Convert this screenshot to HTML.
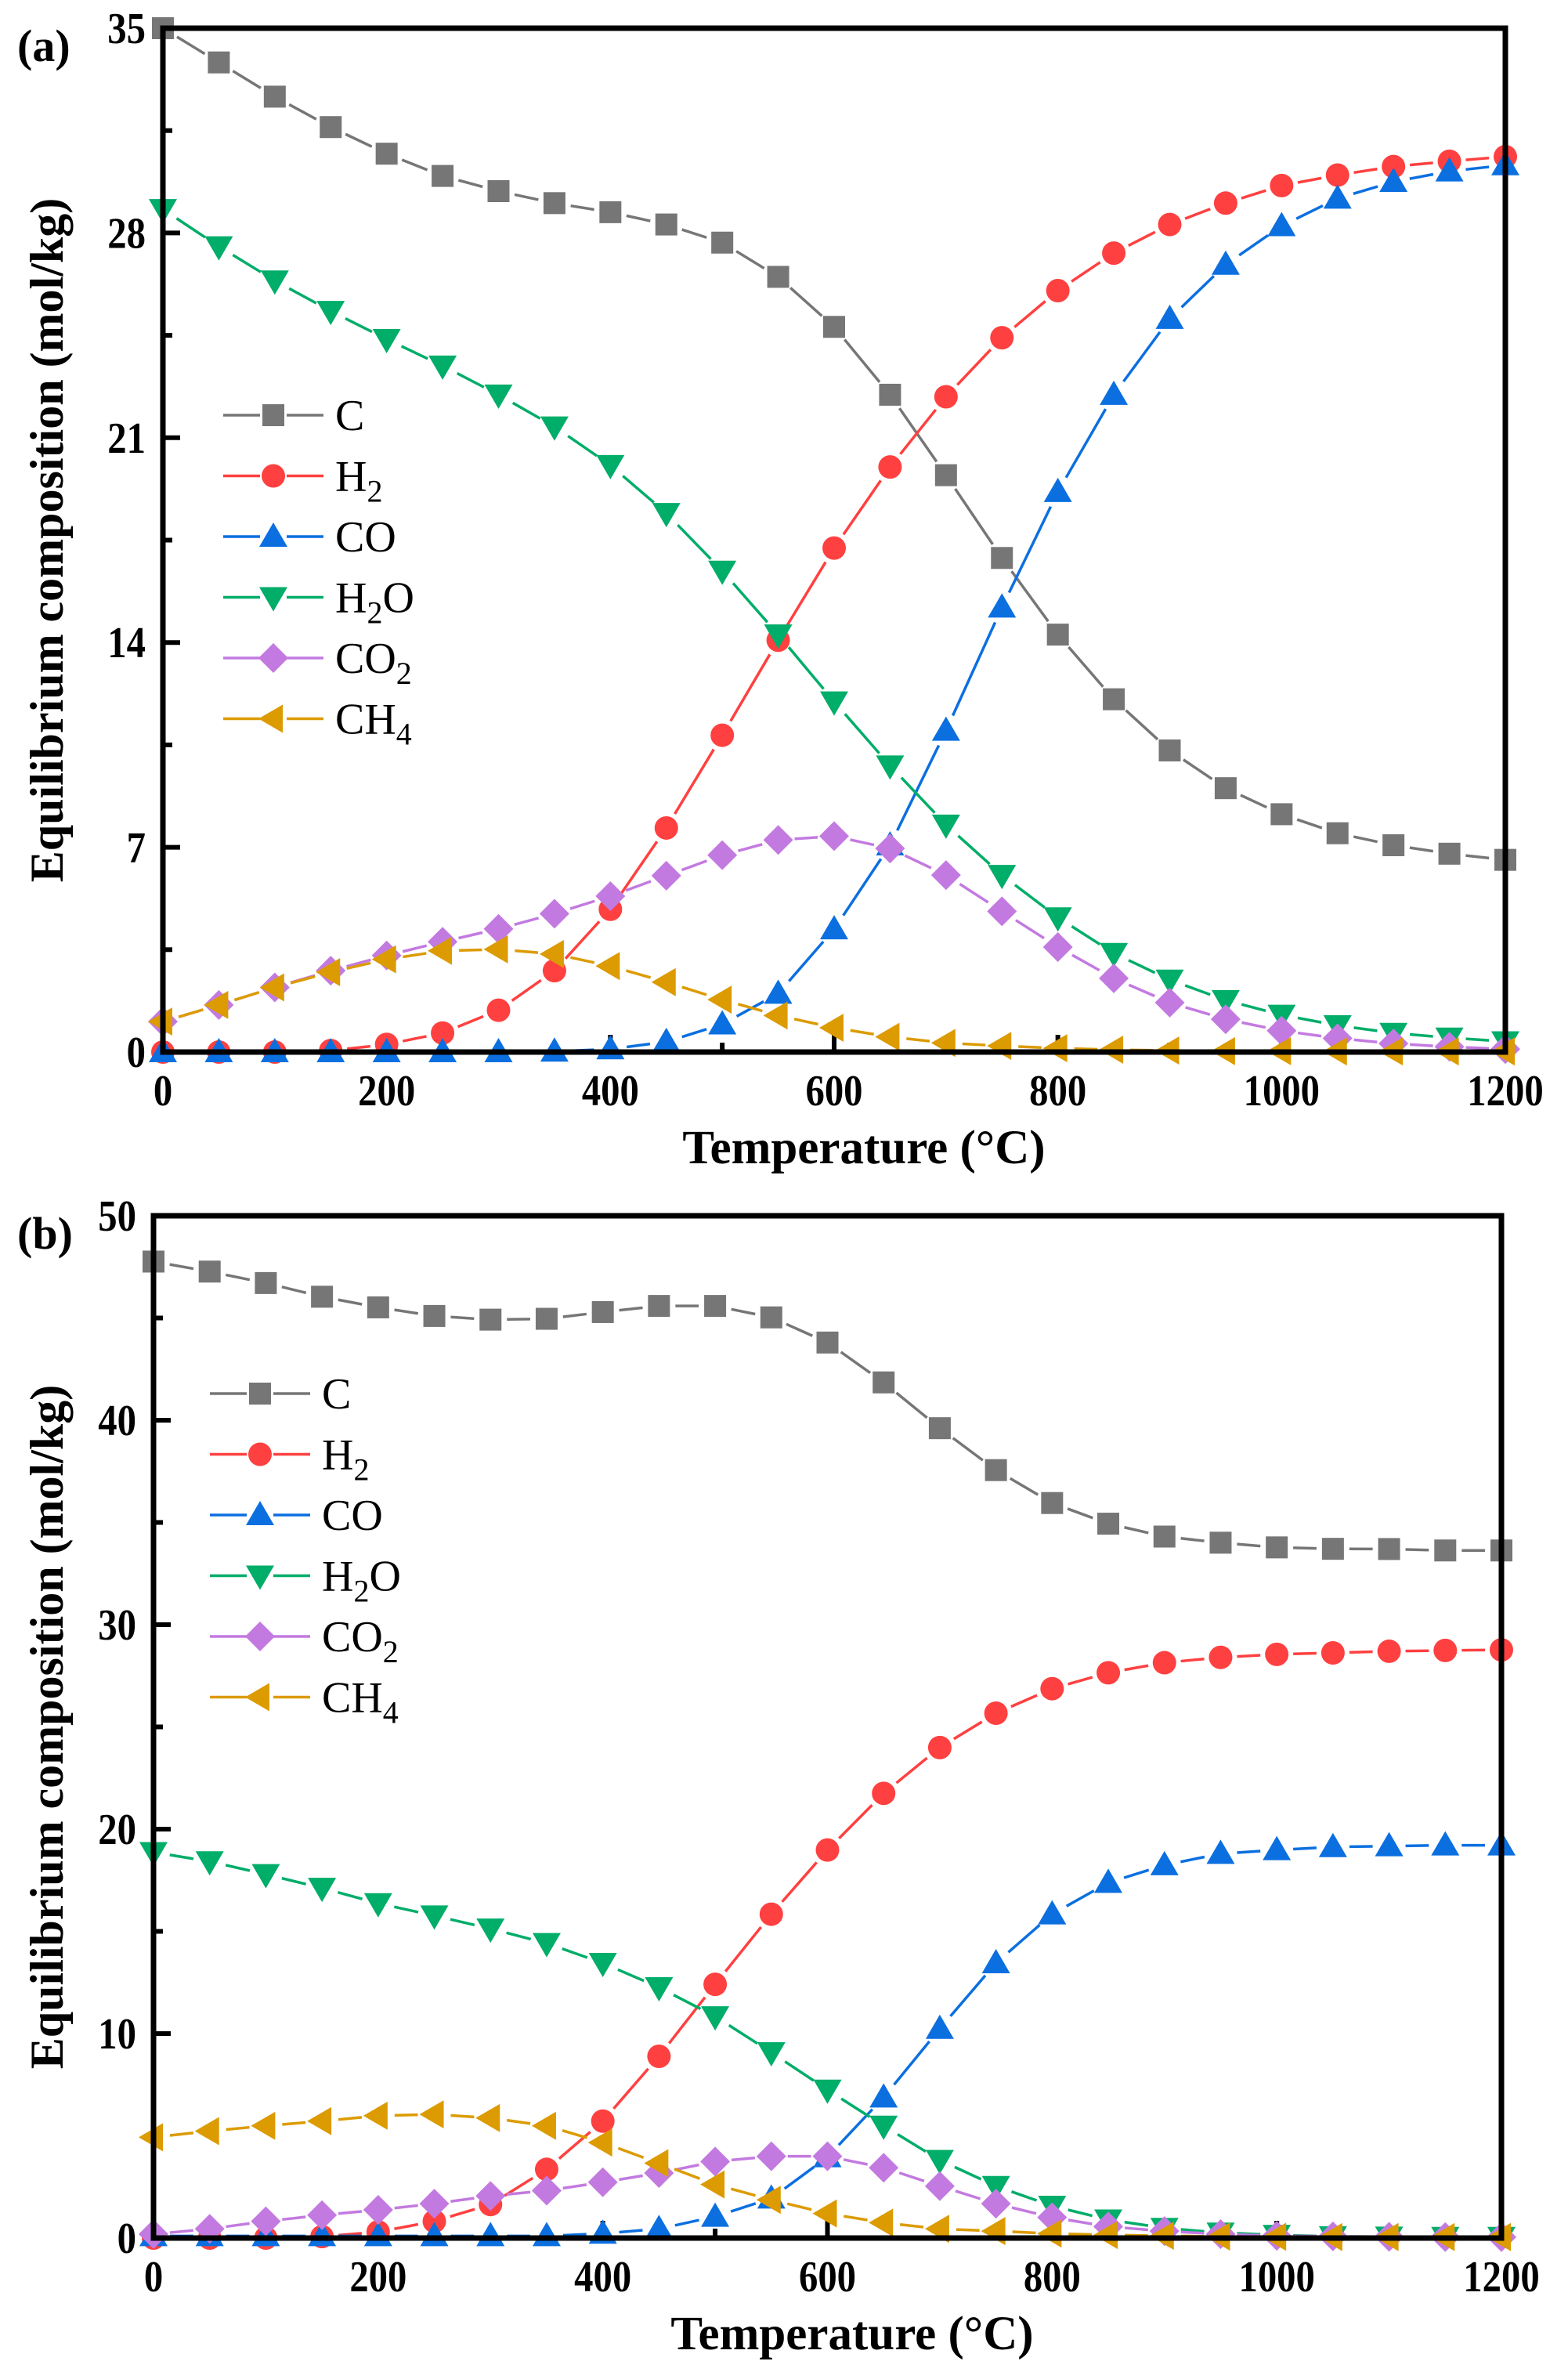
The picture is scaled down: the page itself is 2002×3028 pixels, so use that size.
<!DOCTYPE html>
<html><head><meta charset="utf-8"><style>
html,body{margin:0;padding:0;background:#fff;}
svg{display:block;font-family:"Liberation Serif","DejaVu Serif",serif;}
</style></head><body>
<svg id="fig" width="2002" height="3028" viewBox="0 0 2002 3028" xmlns="http://www.w3.org/2000/svg"></svg>
<script>
const temps = [0,50,100,150,200,250,300,350,400,450,500,550,600,650,700,750,800,850,900,950,1000,1050,1100,1150,1200];
const xTicks = [0,200,400,600,800,1000,1200];
const aYTicks = [0,7,14,21,28,35];
const bYTicks = [0,10,20,30,40,50];
const seriesNames = ["C","H2","CO","H2O","CO2","CH4"];
// panel a
const aC   = [35,33.83,32.66,31.62,30.71,29.95,29.43,29.02,28.71,28.29,27.67,26.5,24.79,22.47,19.72,16.89,14.27,12.06,10.31,9.02,8.13,7.48,7.07,6.78,6.57];
const aH2  = [0,0,0,0.05,0.26,0.65,1.43,2.78,4.88,7.66,10.83,14.08,17.23,20.0,22.4,24.42,26.03,27.31,28.29,29.02,29.62,29.98,30.27,30.45,30.61];
const aCO  = [0,0,0,0,0,0,0,0.02,0.1,0.35,0.95,2.0,4.2,7.07,10.99,15.2,19.15,22.47,25.07,26.92,28.24,29.18,29.75,30.11,30.32];
const aH2O = [28.81,27.54,26.37,25.33,24.37,23.46,22.47,21.38,20.06,18.42,16.45,14.27,11.98,9.79,7.77,6.05,4.6,3.38,2.47,1.77,1.27,0.91,0.65,0.49,0.36];
const aCO2 = [1.04,1.61,2.21,2.78,3.3,3.77,4.21,4.73,5.33,6.03,6.73,7.25,7.38,6.96,6.05,4.81,3.59,2.52,1.69,1.12,0.73,0.47,0.29,0.18,0.1];
const aCH4 = [1.04,1.61,2.21,2.73,3.17,3.46,3.51,3.35,2.94,2.39,1.79,1.25,0.83,0.52,0.31,0.21,0.13,0.08,0.05,0.03,0.03,0.02,0.02,0.02,0.02];
// panel b
const bC   = [47.76,47.27,46.71,46.04,45.52,45.1,44.92,44.96,45.29,45.59,45.59,45.03,43.8,41.85,39.61,37.56,35.95,34.94,34.31,34.01,33.78,33.71,33.7,33.63,33.63];
const bH2  = [0,0,0,0.07,0.3,0.82,1.64,3.36,5.72,8.89,12.41,15.84,18.98,21.75,23.99,25.67,26.87,27.65,28.14,28.4,28.55,28.62,28.7,28.74,28.77];
const bCO  = [0.1,0.1,0.1,0.1,0.1,0.1,0.1,0.1,0.22,0.45,1.05,1.94,3.96,6.88,10.24,13.45,15.84,17.38,18.24,18.8,18.98,19.13,19.17,19.21,19.21];
const bH2O = [18.87,18.42,17.79,17.12,16.37,15.77,15.13,14.42,13.45,12.26,10.84,9.08,7.25,5.49,3.81,2.54,1.57,0.9,0.49,0.26,0.15,0.08,0.06,0.05,0.05];
const bCO2 = [0.19,0.45,0.82,1.12,1.38,1.68,2.06,2.32,2.73,3.18,3.74,4.0,4.0,3.44,2.54,1.68,1.01,0.56,0.34,0.19,0.11,0.08,0.06,0.05,0.05];
const bCH4 = [4.93,5.23,5.49,5.72,5.98,6.05,5.87,5.49,4.67,3.66,2.62,1.87,1.2,0.75,0.45,0.34,0.22,0.15,0.11,0.07,0.06,0.05,0.05,0.05,0.05];

const NS="http://www.w3.org/2000/svg";
const svg=document.getElementById('fig');
const colors={C:"#767676",H2:"#ff4040",CO:"#0b6fe0",H2O:"#00ad69",CO2:"#c37ae0",CH4:"#dc9b00"};
function mk(tag,attrs,parent){const e=document.createElementNS(NS,tag);for(const k in attrs)e.setAttribute(k,attrs[k]);(parent||svg).appendChild(e);return e;}
function marker(g,name,cx,cy){
  const c=colors[name];let e;
  if(name==="C") e=mk('rect',{x:cx-14,y:cy-14,width:28,height:28,fill:c},g);
  else if(name==="H2") e=mk('circle',{cx:cx,cy:cy,r:15,fill:c},g);
  else if(name==="CO") e=mk('polygon',{points:`${cx},${cy-18} ${cx+18},${cy+13} ${cx-18},${cy+13}`,fill:c},g);
  else if(name==="H2O") e=mk('polygon',{points:`${cx},${cy+18} ${cx+18},${cy-13} ${cx-18},${cy-13}`,fill:c},g);
  else if(name==="CO2") e=mk('polygon',{points:`${cx},${cy-19} ${cx+19},${cy} ${cx},${cy+19} ${cx-19},${cy}`,fill:c},g);
  else e=mk('polygon',{points:`${cx-19},${cy} ${cx+12},${cy-18} ${cx+12},${cy+18}`,fill:c},g);
  return e;
}
function label(parent,x,y,name,size,subsize){
  const t=mk('text',{x:x,y:y,'font-size':size,fill:'#000'},parent);
  const parts={C:[["C"]],H2:[["H"],["2",1]],CO:[["CO"]],H2O:[["H"],["2",1],["O"]],CO2:[["CO"],["2",1]],CH4:[["CH"],["4",1]]}[name];
  parts.forEach(p=>{const s=mk('tspan',{},t);s.textContent=p[0];if(p[1]){s.setAttribute('font-size',subsize);s.setAttribute('dy','14');}else if(t.childNodes.length>1){s.setAttribute('dy','-14');}});
  return t;
}
function panel(opt){
  const g=mk('g',{});
  
  
  const X=v=>opt.x0+(v-0)/1200*(opt.x1-opt.x0);
  const Y=v=>opt.y0-(v/opt.ymax)*(opt.y0-opt.y1);
  const tg=mk('g',{},g);
  
  
  for(let v=0;v<=1200;v+=100){const maj=v%200===0;mk('line',{x1:X(v),x2:X(v),y1:opt.y0,y2:opt.y0-(maj?22:12),stroke:'#000','stroke-width':6},tg);}
  const step=opt.yticks[1]-opt.yticks[0];
  for(let v=0;v<=opt.ymax+0.001;v+=step/2){const maj=Math.abs((v/step)-Math.round(v/step))<0.01;mk('line',{x1:opt.x0,x2:opt.x0+(maj?22:12),y1:Y(v),y2:Y(v),stroke:'#000','stroke-width':6},tg);}
  xTicks.forEach(v=>{const t=mk('text',{x:0,y:0,'font-size':56,'font-weight':'bold','text-anchor':'middle',transform:`translate(${X(v)},${opt.y0+68}) scale(0.87,1)`},g);t.textContent=v;
    
    });
  opt.yticks.forEach(v=>{const t=mk('text',{x:0,y:0,'font-size':56,'font-weight':'bold','text-anchor':'end',transform:`translate(${opt.x0-22},${Y(v)+19}) scale(0.87,1)`},g);t.textContent=v;
    
    });
  opt.data.forEach((arr,i)=>{
    const name=seriesNames[i];const sg=mk('g',{},g);
    
    
    for(let k=0;k<arr.length-1;k++){
      const ax=X(temps[k]),ay=Y(arr[k]),bx=X(temps[k+1]),by=Y(arr[k+1]);
      const dx=bx-ax,dy=by-ay,L=Math.hypot(dx,dy),gap=21;
      if(L>2*gap){mk('line',{x1:ax+dx/L*gap,y1:ay+dy/L*gap,x2:bx-dx/L*gap,y2:by-dy/L*gap,stroke:colors[name],'stroke-width':3.5},sg);}
    }
    arr.forEach((v,k)=>{const m=marker(sg,name,X(temps[k]),Y(v));
      
      });
  });
  const fr=mk('rect',{x:opt.x0,y:opt.y1,width:opt.x1-opt.x0,height:opt.y0-opt.y1,fill:'none',stroke:'#000','stroke-width':7},g);
  
  
  const lg=mk('g',{},g);
  
  
  seriesNames.forEach((n,i)=>{
    const y=opt.ly+i*77.5;const eg=mk('g',{},lg);
    
    
    mk('line',{x1:opt.lx,x2:opt.lx+128,y1:y,y2:y,stroke:colors[n],'stroke-width':3.5},eg);
    mk('rect',{x:opt.lx+47,y:y-22,width:34,height:44,fill:'#fff'},eg);
    marker(eg,n,opt.lx+64,y);
    label(eg,opt.lx+143,y+19,n,56,40);
  });
  const xt=mk('text',{x:opt.xtx,y:opt.y0+142,'font-size':61,'font-weight':'bold','text-anchor':'middle'},g);
  xt.textContent='Temperature (°C)';
  
  
  const yc=(opt.y0+opt.y1)/2;
  const yt=mk('text',{x:0,y:0,'font-size':60,'font-weight':'bold','text-anchor':'middle',transform:`translate(80,${yc}) rotate(-90)`},g);
  yt.textContent='Equilibrium composition (mol/kg)';
  
  
  const pl=mk('text',{x:22,y:opt.y1+42,'font-size':58,'font-weight':'bold'},g);
  pl.textContent='('+opt.id+')';
  
  
}
panel({id:'a',x0:208,x1:1922,y0:1343,y1:36,ymax:35,yticks:aYTicks,data:[aC,aH2,aCO,aH2O,aCO2,aCH4],lx:285,ly:530,xtx:1103});
panel({id:'b',x0:196,x1:1917,y0:2857,y1:1552,ymax:50,yticks:bYTicks,data:[bC,bH2,bCO,bH2O,bCO2,bCH4],lx:268,ly:1779,xtx:1088});
</script>
</body></html>
